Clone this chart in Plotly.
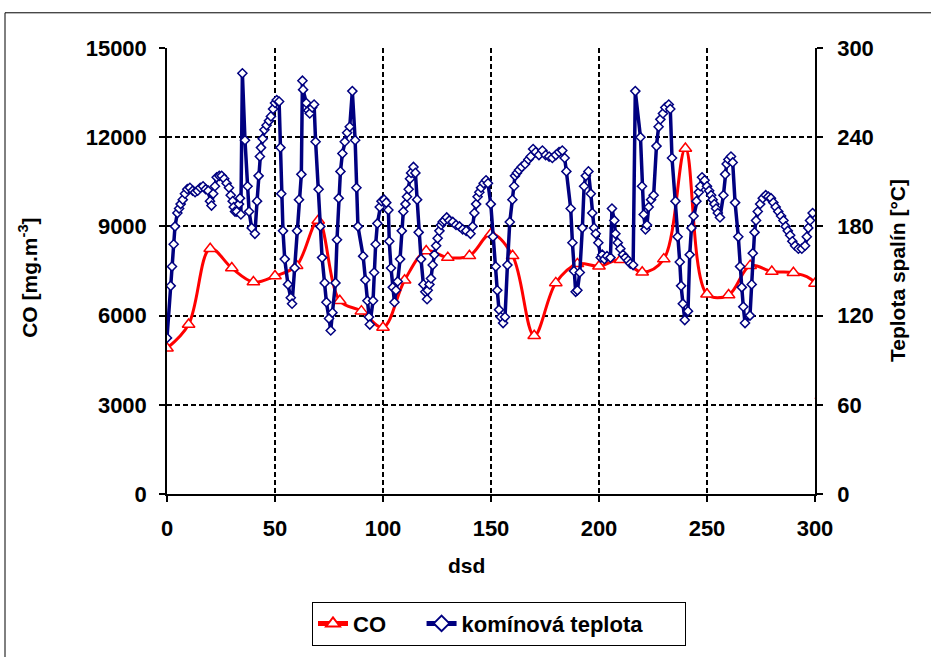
import plotly.graph_objects as go

# ---- data ----
co_x = [0, 10, 20, 30, 40, 50, 60, 70, 80, 90, 100, 110, 120, 130, 140, 150,
        160, 170, 180, 190, 200, 210, 220, 230, 240, 250, 260, 270, 280, 290, 300, 303]
co_y = [4900, 5700, 8250, 7600, 7130, 7330, 7680, 9200, 6500, 6150, 5600, 7190,
        8170, 7950, 8010, 8750, 8010, 5320, 7100, 7740, 7660, 7880, 7460, 7900,
        11620, 6720, 6690, 7680, 7480, 7440, 7080, 3300]

t_x = [0, 1.7, 2.3, 3.1, 3.7, 4.8, 5.6, 6.3, 7.3, 8.3, 9.4, 10.6, 11.9, 13.0, 14.2,
       15.4, 16.7, 17.9, 19.1, 19.9, 20.6, 21.4, 22.2, 23.0, 24.2, 25.3, 26.5, 27.6,
       28.7, 29.5, 30.4, 30.9, 31.5, 32.3, 33.3, 33.8, 34.2, 34.9, 36.1, 37.3, 38.0,
       39.2, 40.7, 41.7, 42.4, 43.0, 43.5, 44.3, 45.1, 46.1, 47.2, 48.1, 49.1, 50.0,
       50.8, 51.9, 52.5, 52.9, 53.7, 54.5, 56.0, 57.3, 57.9, 59.1, 60.2, 61.1, 62.2,
       62.7, 63.0, 64.5, 65.4, 66.1, 67.2, 68.1, 68.8, 70.2, 71.0, 71.8, 73.0, 73.8,
       75.0, 75.8, 76.6, 78.0, 78.7, 79.5, 80.3, 81.2, 82.3, 83.4, 84.6, 85.8, 87.1,
       87.7, 88.4, 90.8, 91.8, 92.8, 93.5, 93.9, 95.4, 95.9, 96.6, 97.4, 98.5, 99.3,
       100.5, 101.5, 102.5, 102.9, 103.7, 104.5, 105.3, 106.0, 106.8, 107.9, 108.7,
       109.4, 110.4, 111.1, 111.9, 112.5, 113.0, 114.1, 115.0, 115.8, 116.5, 117.6,
       118.7, 119.6, 120.4, 120.7, 121.5, 122.2, 123.0, 123.8, 124.6, 125.3, 126.1,
       126.9, 127.6, 128.4, 129.5, 130.7, 132.3, 133.8, 135.4, 136.9, 138.5, 140.5,
       141.5, 142.3, 143.1, 143.8, 144.6, 145.4, 146.6, 147.7, 148.6, 149.9, 150.9,
       152.2, 152.9, 153.7, 154.5, 155.6, 156.5, 157.6, 158.7, 159.9, 160.7, 161.1,
       162.0, 163.0, 164.2, 165.8, 167.3, 168.4, 169.5, 170.7, 172.2, 173.8, 175.3,
       176.9, 178.4, 180.0, 181.5, 183.0, 184.1, 184.9, 186.9, 187.7, 188.4, 189.2,
       190.0, 191.1, 192.3, 193.1, 193.9, 195.1, 196.2, 196.9, 197.7, 198.5, 199.7,
       200.8, 201.5, 202.5, 203.7, 205.3, 206.0, 207.1, 207.6, 208.7, 209.9, 211.1,
       212.2, 213.5, 214.5, 215.8, 216.8, 219.2, 219.9, 220.7, 221.5, 222.2, 223.0,
       224.1, 225.3, 226.6, 227.6, 228.4, 229.6, 230.7, 232.3, 233.0, 233.8, 235.4,
       236.4, 237.4, 238.0, 238.8, 239.7, 241.2, 242.0, 242.8, 243.8, 245.1, 246.2,
       246.9, 247.7, 248.9, 250.0, 251.0, 251.9, 252.6, 253.4, 254.2, 255.0, 256.0,
       257.6, 258.4, 259.1, 259.9, 261.1, 261.9, 263.0, 264.5, 265.3, 266.1, 266.8,
       267.6, 269.9, 270.7, 271.2, 272.0, 272.7, 273.5, 274.6, 275.8, 277.2, 278.4,
       279.6, 280.7, 281.8, 283.0, 284.3, 285.4, 286.4, 287.4, 288.5, 289.5, 290.8,
       292.3, 293.9, 295.4, 296.2, 296.9, 297.7, 298.9]
t_y = [105, 140, 153, 168, 180, 189, 192, 195, 198, 202, 205, 206, 204, 203, 204,
       206, 207, 205, 204, 197, 194, 202, 207, 213, 214, 214, 212, 209,
       206, 201, 197, 193, 190, 190, 195, 199, 188, 283, 238, 207, 190,
       179, 175, 197, 214, 227, 233, 239, 245, 248, 251, 254, 259, 263,
       265, 264, 233, 202, 177, 158, 141, 132, 128, 152, 177, 198, 215,
       278, 272, 263, 258, 256, 260, 262, 237, 205, 180, 159, 142, 129,
       118, 110, 122, 142, 171, 199, 217, 229, 237, 243, 247, 271, 238,
       206, 180, 160, 144, 130, 119, 114, 130, 149, 168, 182, 193, 197,
       198, 196, 191, 170, 152, 139, 129, 137, 143, 158, 177,
       190, 195, 200, 205, 212, 216, 220, 216, 198, 176, 158,
       141, 136, 131, 137, 141, 145, 154, 161, 167, 172, 177,
       181, 183, 184, 186, 184, 183, 181, 180, 178, 177, 175,
       180, 189, 195, 200, 203, 206, 209, 211, 209, 195, 173,
       153, 137, 124, 119, 115, 119, 154, 183, 198, 207, 214,
       216, 218, 220, 222, 225, 227, 232, 230, 228, 231, 228,
       227, 226, 228, 230, 231, 226, 217, 192, 169, 150, 136,
       137, 149, 179, 207, 214, 217, 202, 189, 179, 175, 169,
       159, 161, 158, 160, 159, 192, 184, 175, 169, 165, 161,
       159, 157, 155, 154, 271, 240, 207, 188, 178, 181, 193,
       198, 201, 234, 247, 252, 256, 260, 262, 259, 226, 197,
       173, 156, 140, 128, 117, 123, 161, 179, 187, 197, 203,
       207, 213, 211, 207, 204, 201, 198, 195, 192, 189, 186,
       201, 215, 222, 225, 227, 223, 196, 173, 153, 139, 126,
       115, 120, 141, 162, 176, 184, 190, 195, 199, 201, 200,
       199, 196, 193, 190, 187, 184, 180, 177, 174, 170, 167,
       165, 165, 167, 173, 179, 184, 189]

x_ticks = [0, 50, 100, 150, 200, 250, 300]
y1_ticks = [0, 3000, 6000, 9000, 12000, 15000]
y2_ticks = [0, 60, 120, 180, 240, 300]

# ---- layout geometry (pixels) ----
W, H = 931, 657
PL, PR, PT, PB = 167, 815, 48, 504


def px(xp):
    return (xp - PL) / (PR - PL)


def py(yp):
    return (PB - yp) / (PB - PT)


FONT = "Liberation Sans, Arial, sans-serif"
fs_tick = 22
fs_title = 21
fs_leg = 22
NB = "\u00a0"

fig = go.Figure()
fig.add_trace(go.Scatter(
    x=co_x, y=co_y, name="<b>CO</b>" + NB * 5, mode="lines+markers",
    line=dict(color="#FF0000", width=3, shape="spline", smoothing=1.0),
    marker=dict(symbol="triangle-up", size=11, color="white",
                line=dict(color="#FF0000", width=1.5)),
    yaxis="y"))
fig.add_trace(go.Scatter(
    x=t_x, y=t_y, name="<b>komínová teplota</b>" + NB * 6, mode="lines+markers",
    line=dict(color="#000080", width=3.5),
    marker=dict(symbol="diamond", size=7, color="white",
                line=dict(color="#000080", width=1.5)),
    yaxis="y2"))

grid = dict(showgrid=True, gridcolor="black", gridwidth=2, griddash="5px,3px")
axis_common = dict(showline=True, linecolor="black", linewidth=1.5,
                   ticks="outside", ticklen=6, tickcolor="black", tickwidth=1.5,
                   zeroline=False, tickfont=dict(family=FONT, size=fs_tick, color="black"))

fig.update_layout(
    width=W, height=H,
    margin=dict(l=PL, r=W - PR, t=PT, b=H - PB),
    paper_bgcolor="white", plot_bgcolor="white",
    font=dict(family=FONT, size=fs_tick, color="black"),
    showlegend=True,
    legend=dict(orientation="h", x=px(499), xanchor="center", y=py(614), yanchor="top",
                bordercolor="black", borderwidth=1, bgcolor="white",
                font=dict(family=FONT, size=fs_leg, color="black"),
                itemsizing="constant", traceorder="normal"),
    xaxis=dict(range=[0, 300], tickvals=x_ticks, ticktext=[f"<b>{v}</b>" for v in x_ticks],
               ticklabelstandoff=8, **axis_common, **grid),
    yaxis=dict(range=[0, 15000], tickvals=y1_ticks, ticktext=[f"<b>{v}</b>" for v in y1_ticks],
               ticklabelstandoff=8, **axis_common, **grid),
    yaxis2=dict(range=[0, 300], tickvals=y2_ticks, ticktext=[f"<b>{v}</b>" for v in y2_ticks],
                overlaying="y", side="right", anchor="x",
                ticklabelstandoff=10, showgrid=False, **axis_common),
    shapes=[
        dict(type="line", xref="paper", yref="paper",
             x0=px(5), x1=px(5), y0=py(12), y1=py(700),
             line=dict(color="black", width=1)),
        dict(type="line", xref="paper", yref="paper",
             x0=px(5), x1=px(960), y0=py(12), y1=py(12),
             line=dict(color="black", width=1)),
    ],
    annotations=[
        dict(text="<b>CO [mg.m<sup>-3</sup>]</b>", xref="paper", yref="paper",
             x=px(28), y=py(283), textangle=-90, showarrow=False,
             xanchor="center", yanchor="middle", font=dict(family=FONT, size=fs_title)),
        dict(text="<b>Teplota spalín [°C]</b>", xref="paper", yref="paper",
             x=px(897), y=py(275), textangle=-90, showarrow=False,
             xanchor="center", yanchor="middle", font=dict(family=FONT, size=fs_title)),
        dict(text="<b>dsd</b>", xref="paper", yref="paper",
             x=px(466), y=py(577), showarrow=False,
             xanchor="center", yanchor="middle", font=dict(family=FONT, size=fs_title)),
    ],
)

fig.write_html("out.html", config={"displayModeBar": False})
